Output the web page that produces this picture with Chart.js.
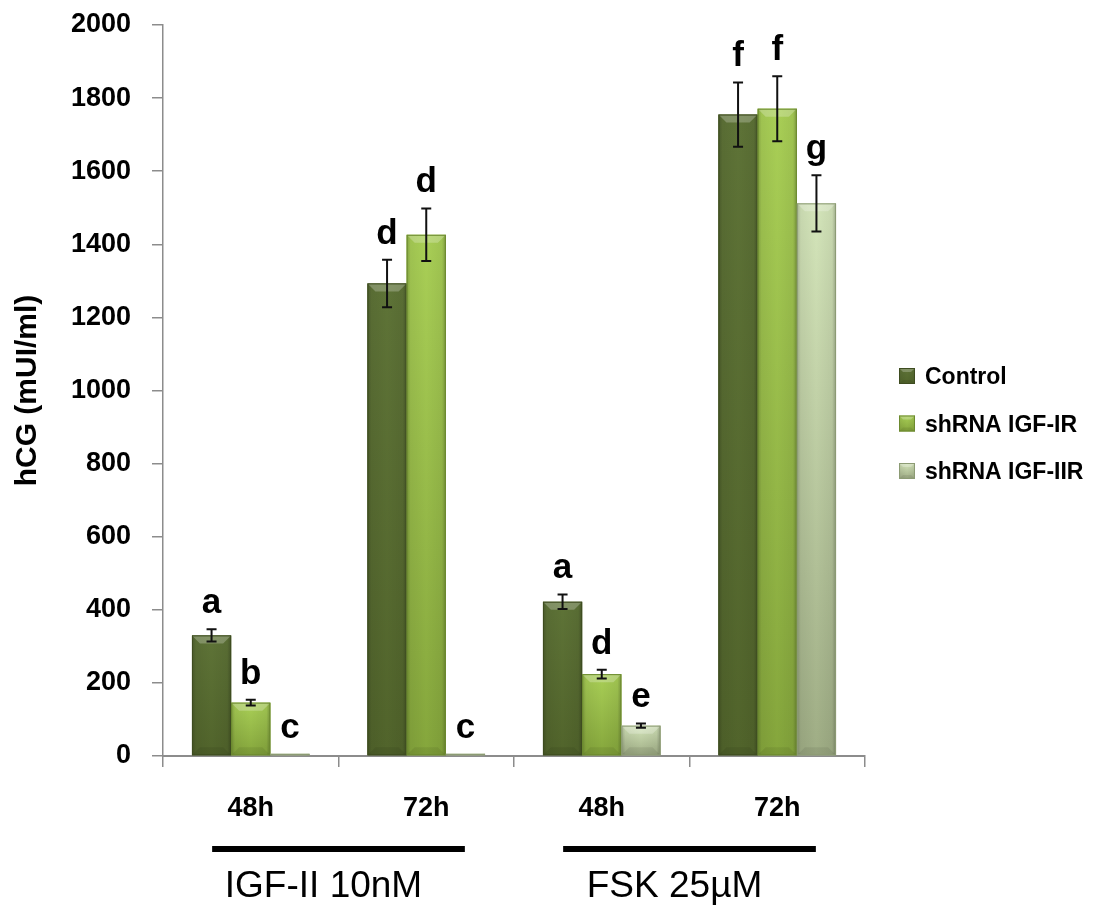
<!DOCTYPE html>
<html>
<head>
<meta charset="utf-8">
<title>hCG secretion</title>
<script src="https://cdn.jsdelivr.net/npm/chart.js@4.4.1/dist/chart.umd.min.js"></script>
<style>
  html, body { margin: 0; padding: 0; background: #ffffff; }
  #wrap { position: relative; width: 1093px; height: 911px; }
</style>
</head>
<body>
<div id="wrap"><canvas id="chart"></canvas></div>
<script>
// ---- data ----
const timePoints = ['48h', '72h', '48h', '72h'];
const treatmentGroups = ['IGF-II 10nM', 'FSK 25µM'];
const seriesNames = ['Control', 'shRNA IGF-IR', 'shRNA IGF-IIR'];

const controlValues = [330, 1293, 422, 1755];
const igf1rValues   = [146, 1426, 224, 1771];
const igf2rValues   = [6, 6, 83, 1512];

const controlErrors = [17, 65, 20, 88];
const igf1rErrors   = [8, 72, 12, 89];
const igf2rErrors   = [0, 0, 6, 77];

const controlLetters = ['a', 'd', 'a', 'f'];
const igf1rLetters   = ['b', 'd', 'd', 'f'];
const igf2rLetters   = ['c', 'c', 'e', 'g'];

const yTicks = [0, 200, 400, 600, 800, 1000, 1200, 1400, 1600, 1800, 2000];

// ---- styling ----
const FONT = "'Liberation Sans', Arial, sans-serif";
const shades = [
  { top: '#5e7337', mid: '#576b2f', bottom: '#51642b', edge: '#3e4c20' },
  { top: '#a9cf56', mid: '#98bd48', bottom: '#85a63c', edge: '#6c8a2f' },
  { top: '#d4e5ba', mid: '#bccb9f', bottom: '#9fad85', edge: '#8c9b74' }
];

function bevelBox(ctx, l, t, r, b, c, bevMax) {
  const w = r - l, h = b - t;
  if (h <= 0 || w <= 0) return;
  const bev = Math.min(bevMax, w / 4, h / 2);
  ctx.save();
  const g = ctx.createLinearGradient(0, t, 0, b);
  g.addColorStop(0, c.top);
  g.addColorStop(1, c.bottom);
  ctx.fillStyle = g;
  ctx.fillRect(l, t, w, h);
  // darker vertical edges
  const sg = ctx.createLinearGradient(l, 0, r, 0);
  sg.addColorStop(0, 'rgba(0,0,0,0.22)');
  sg.addColorStop(0.1, 'rgba(0,0,0,0.06)');
  sg.addColorStop(0.5, 'rgba(0,0,0,0)');
  sg.addColorStop(0.9, 'rgba(0,0,0,0.06)');
  sg.addColorStop(1, 'rgba(0,0,0,0.26)');
  ctx.fillStyle = sg;
  ctx.fillRect(l, t, w, h);
  // top bevel highlight
  ctx.beginPath();
  ctx.moveTo(l, t); ctx.lineTo(r, t);
  ctx.lineTo(r - bev, t + bev); ctx.lineTo(l + bev, t + bev);
  ctx.closePath();
  ctx.fillStyle = 'rgba(255,255,255,0.24)';
  ctx.fill();
  // bottom bevel shade
  ctx.beginPath();
  ctx.moveTo(l, b); ctx.lineTo(r, b);
  ctx.lineTo(r - bev, b - bev); ctx.lineTo(l + bev, b - bev);
  ctx.closePath();
  ctx.fillStyle = 'rgba(0,0,0,0.07)';
  ctx.fill();
  ctx.strokeStyle = c.edge;
  ctx.lineWidth = 1;
  ctx.strokeRect(l + 0.5, t + 0.5, w - 1, h - 1);
  ctx.restore();
}

const errorSets  = [controlErrors, igf1rErrors, igf2rErrors];
const letterSets = [controlLetters, igf1rLetters, igf2rLetters];

// bars with bevel, error bars and significance letters
const barDecor = {
  id: 'barDecor',
  afterDatasetsDraw(chart) {
    const ctx = chart.ctx;
    const y = chart.scales.y;
    chart.data.datasets.forEach((ds, di) => {
      const meta = chart.getDatasetMeta(di);
      meta.data.forEach((el) => {
        const p = el.getProps(['x', 'y', 'base', 'width'], true);
        const l = p.x - p.width / 2, r = p.x + p.width / 2;
        bevelBox(ctx, l, Math.min(p.y, p.base), r, Math.max(p.y, p.base), shades[di], 8);
      });
    });
    chart.data.datasets.forEach((ds, di) => {
      const meta = chart.getDatasetMeta(di);
      meta.data.forEach((el, i) => {
        const p = el.getProps(['x'], true);
        const v = ds.data[i], e = errorSets[di][i];
        const yHi = y.getPixelForValue(v + e);
        const yLo = y.getPixelForValue(v - e);
        ctx.save();
        if (e > 0) {
          ctx.strokeStyle = '#111';
          ctx.lineWidth = 2;
          ctx.beginPath();
          ctx.moveTo(p.x, yHi); ctx.lineTo(p.x, yLo);
          ctx.moveTo(p.x - 5, yHi); ctx.lineTo(p.x + 5, yHi);
          ctx.moveTo(p.x - 5, yLo); ctx.lineTo(p.x + 5, yLo);
          ctx.stroke();
        }
        ctx.fillStyle = '#000';
        ctx.font = 'bold 35px ' + FONT;
        ctx.textAlign = 'center';
        ctx.textBaseline = 'alphabetic';
        ctx.fillText(letterSets[di][i], p.x, yHi - 16);
        ctx.restore();
      });
    });
  }
};

// legend at right, group underlines and treatment labels
const extras = {
  id: 'extras',
  afterDraw(chart) {
    const ctx = chart.ctx;
    const area = chart.chartArea;
    const x = chart.scales.x;
    ctx.save();
    // legend
    const midY = (area.top + area.bottom) / 2 + 33;
    const lx = area.right + 34;
    seriesNames.forEach((name, i) => {
      const cy = midY + (i - 1) * 47.5;
      bevelBox(ctx, lx, cy - 8, lx + 16, cy + 8, shades[i], 5);
      ctx.fillStyle = '#000';
      ctx.font = 'bold 23px ' + FONT;
      ctx.textAlign = 'left';
      ctx.textBaseline = 'middle';
      ctx.fillText(name, lx + 26, cy + 2);
    });
    // treatment groups: each spans two time points
    const step = x.getPixelForValue(1) - x.getPixelForValue(0);
    treatmentGroups.forEach((g, gi) => {
      const c0 = x.getPixelForValue(gi * 2);
      const c1 = x.getPixelForValue(gi * 2 + 1);
      const cx = (c0 + c1) / 2;
      const half = step * 0.72;
      ctx.fillStyle = '#000';
      ctx.fillRect(cx - half, area.bottom + 90, half * 2, 6);
      ctx.font = '37px ' + FONT;
      ctx.textAlign = 'center';
      ctx.textBaseline = 'middle';
      ctx.fillText(g, cx - 15, area.bottom + 131);
    });
    ctx.restore();
  }
};

const makeSet = (label, values, i) => ({
  label,
  data: values,
  backgroundColor: shades[i].mid,
  borderWidth: 0,
  categoryPercentage: 0.67,
  barPercentage: 1.0
});

new Chart(document.getElementById('chart'), {
  type: 'bar',
  data: {
    labels: timePoints,
    datasets: [
      makeSet(seriesNames[0], controlValues, 0),
      makeSet(seriesNames[1], igf1rValues, 1),
      makeSet(seriesNames[2], igf2rValues, 2)
    ]
  },
  options: {
    responsive: true,
    maintainAspectRatio: false,
    animation: false,
    layout: { padding: { top: 25, right: 228, left: 0, bottom: 0 } },
    plugins: { legend: { display: false }, tooltip: { enabled: false } },
    scales: {
      x: {
        afterFit(scale) { scale.height = 155; },
        grid: { display: true, drawOnChartArea: false, drawTicks: true, tickLength: 11, color: '#8c8c8c', lineWidth: 1.5 },
        border: { display: true, color: '#8c8c8c', width: 2 },
        ticks: { color: '#000', font: { family: FONT, size: 27, weight: 'bold' }, padding: 25 }
      },
      y: {
        min: 0,
        max: 2000,
        afterFit(scale) {
          scale.width = 163;
          scale.paddingTop = 0;
          scale.paddingBottom = 0;
        },
        afterBuildTicks(scale) { scale.ticks = yTicks.map(v => ({ value: v })); },
        grid: { display: true, drawOnChartArea: false, drawTicks: true, tickLength: 11, color: '#8c8c8c', lineWidth: 1.5 },
        border: { display: true, color: '#8c8c8c', width: 1.5 },
        ticks: {
          color: '#000',
          font: { family: FONT, size: 27, weight: 'bold' },
          padding: 21,
          callback: (v) => String(v)
        },
        title: {
          display: true,
          text: 'hCG (mUI/ml)',
          color: '#000',
          font: { family: FONT, size: 30, weight: 'bold' },
          padding: { top: 10, bottom: 0 }
        }
      }
    }
  },
  plugins: [barDecor, extras]
});
</script>
</body>
</html>
